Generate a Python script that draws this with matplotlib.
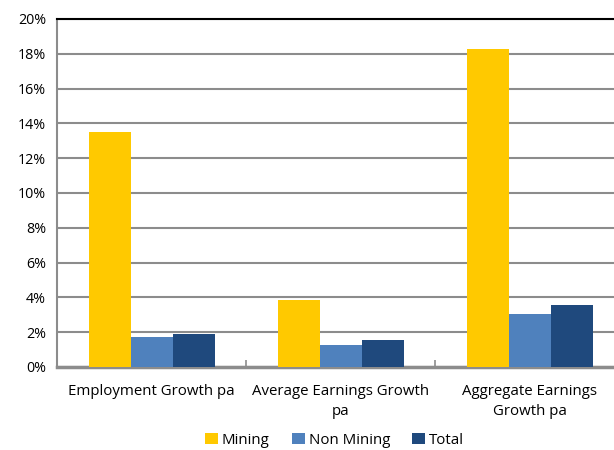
import numpy as np
import matplotlib.pyplot as plt
from matplotlib.ticker import PercentFormatter

categories = ["Employment Growth pa", "Average Earnings Growth\npa", "Aggregate Earnings\nGrowth pa"]
mining = [13.5, 3.85, 18.3]
non_mining = [1.7, 1.25, 3.03]
total = [1.92, 1.55, 3.55]

series = ["Mining", "Non Mining", "Total"]
colors = ["#FFC900", "#4F81BD", "#1F497D"]

plt.rcParams['font.family'] = ['Open Sans', 'DejaVu Sans']

fig = plt.figure(figsize=(6.14, 4.5), dpi=100)
# plot area runs past the right edge of the image, as in the original
ax = fig.add_axes([57/614, 83/450, 567/614, 348/450])

x = np.arange(len(categories))
w = 1 / 4.5
for i, (vals, name, c) in enumerate(zip([mining, non_mining, total], series, colors)):
    ax.bar(x + (i - 1) * w, vals, width=w, color=c, label=name, zorder=3)

ax.set_xlim(-0.5, 2.5)
ax.set_ylim(0, 20)
ax.set_yticks(np.arange(0, 21, 2))
ax.yaxis.set_major_formatter(PercentFormatter(decimals=0))
ax.grid(axis='y', color='#8C8C8C', linewidth=1.5, zorder=0)

ax.set_xticks(x)
ax.set_xticklabels(categories, fontsize=10.8, linespacing=1.45)
ax.set_xticks([0.5, 1.5], minor=True)
ax.tick_params(axis='x', which='major', length=0, pad=12)
ax.tick_params(axis='x', which='minor', direction='in', length=5, color='#8C8C8C', width=1.2)
ax.tick_params(axis='y', length=0, labelsize=10.3, pad=8)

for s in ['left', 'bottom']:
    ax.spines[s].set_color('#8C8C8C')
ax.spines['left'].set_linewidth(1.5)
ax.spines['bottom'].set_linewidth(2.5)
ax.spines['top'].set_color('#000000')
ax.spines['top'].set_linewidth(1.5)
ax.spines['right'].set_visible(False)

fig.legend(loc='center', bbox_to_anchor=(0.545, 0.022), ncol=3, frameon=False,
           fontsize=10.8, handlelength=0.85, handleheight=0.85, handletextpad=0.25,
           columnspacing=1.5)

fig.savefig('out.png', dpi=100)
